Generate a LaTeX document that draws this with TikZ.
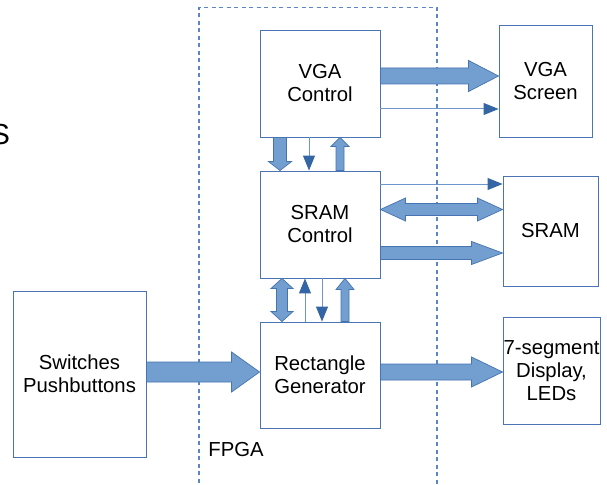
\documentclass[tikz,border=0pt]{standalone}
\usepackage{fontspec}
\setmainfont{Liberation Sans}
\usetikzlibrary{arrows.meta,calc}
\definecolor{boxline}{HTML}{4A74B4}
\definecolor{fatfill}{HTML}{729FCF}
\definecolor{fatline}{HTML}{4674B2}
\definecolor{thinline}{HTML}{6F96CC}
\definecolor{tipcol}{HTML}{3465A4}
\definecolor{dashcol}{HTML}{5A86C5}
\tikzset{
  every node/.style={font=\fontsize{20.3}{23}\selectfont},
  box/.style={draw=boxline, line width=0.9pt, align=center, inner sep=0pt},
  fat/.style={fill=fatfill, draw=fatline, line width=0.7pt, line join=miter},
  thinarrow/.style={draw=thinline, line width=1pt, -{Triangle[length=15pt,width=12pt,color=tipcol]}},
  fpgaline/.style={draw=dashcol, line width=1.2pt, dash pattern=on 4pt off 3.5pt}
}
\newcommand\fatRight[5]{\filldraw[fat] let \p1=(#1),\p2=(#2) in (\x1,\y1+#3) -- (\x2-#5,\y1+#3) -- (\x2-#5,\y1+#4) -- (\x2,\y1) -- (\x2-#5,\y1-#4) -- (\x2-#5,\y1-#3) -- (\x1,\y1-#3) -- cycle;}
\newcommand\fatLR[5]{\filldraw[fat] let \p1=(#1),\p2=(#2) in (\x1,\y1) -- (\x1+#5,\y1+#4) -- (\x1+#5,\y1+#3) -- (\x2-#5,\y1+#3) -- (\x2-#5,\y1+#4) -- (\x2,\y1) -- (\x2-#5,\y1-#4) -- (\x2-#5,\y1-#3) -- (\x1+#5,\y1-#3) -- (\x1+#5,\y1-#4) -- cycle;}
\newcommand\fatDown[5]{\filldraw[fat] let \p1=(#1),\p2=(#2) in (\x1-#3,\y1) -- (\x1-#3,\y2+#5) -- (\x1-#4,\y2+#5) -- (\x1,\y2) -- (\x1+#4,\y2+#5) -- (\x1+#3,\y2+#5) -- (\x1+#3,\y1) -- cycle;}
\newcommand\fatUp[5]{\filldraw[fat] let \p1=(#1),\p2=(#2) in (\x1-#3,\y1) -- (\x1-#3,\y2-#5) -- (\x1-#4,\y2-#5) -- (\x1,\y2) -- (\x1+#4,\y2-#5) -- (\x1+#3,\y2-#5) -- (\x1+#3,\y1) -- cycle;}
\newcommand\fatUD[5]{\filldraw[fat] let \p1=(#1),\p2=(#2) in (\x1,\y1) -- (\x1+#4,\y1-#5) -- (\x1+#3,\y1-#5) -- (\x1+#3,\y2+#5) -- (\x1+#4,\y2+#5) -- (\x1,\y2) -- (\x1-#4,\y2+#5) -- (\x1-#3,\y2+#5) -- (\x1-#3,\y1-#5) -- (\x1-#4,\y1-#5) -- cycle;}
\begin{document}
\begin{tikzpicture}[x=1pt,y=-1pt]
\useasboundingbox[fill=white] (0,0) rectangle (607,484);
% FPGA region
\draw[fpgaline] (199,490) -- (199,7.5) -- (437,7.5) -- (437,490);
\node (fpgalbl) at (236,450) {FPGA};
\node[anchor=east, font=\fontsize{29}{32}\selectfont] (stxt) at (13.5,135) {S};
% boxes
\node[box, minimum width=120pt, minimum height=107pt] (vgac) at (320,83.5) {VGA\\Control};
\node[box, minimum width=93pt, minimum height=112pt] (vgas) at (545.5,81) {VGA\\Screen};
\node[box, minimum width=120pt, minimum height=107pt] (sramc) at (320,224.5) {SRAM\\Control};
\node[box, minimum width=95pt, minimum height=110pt] (sram) at (550.5,231) {SRAM};
\node[box, minimum width=120pt, minimum height=106pt] (rect) at (320,375) {Rectangle\\Generator};
\node[box, minimum width=133pt, minimum height=166pt] (sw) at (79.5,374) {Switches\\Pushbuttons};
\node[box, minimum width=97pt, minimum height=107pt] (seg) at (551.5,370.5) {7-segment\\Display,\\LEDs};
% horizontal connectors
\fatRight{vgac.east |- 0,76}{vgas.west |- 0,76}{8pt}{15.5pt}{30pt}
\draw[thinarrow] (vgac.east |- 0,109) -- (vgas.west |- 0,109);
\draw[thinarrow] (sramc.east |- 0,184) -- (sram.west |- 0,184);
\fatLR{sramc.east |- 0,209.5}{sram.west |- 0,209.5}{6pt}{11.5pt}{25pt}
\fatRight{sramc.east |- 0,253}{sram.west |- 0,253}{6.5pt}{11.5pt}{31pt}
\fatRight{rect.east |- 0,372}{seg.west |- 0,372}{8pt}{15pt}{31pt}
\fatRight{sw.east |- 0,372}{rect.west |- 0,372}{10pt}{20pt}{28pt}
% vertical connectors VGA Control / SRAM Control
\fatDown{vgac.south -| 280,0}{sramc.north -| 280,0}{6.5pt}{11.5pt}{9pt}
\draw[thinarrow] (vgac.south -| 309,0) -- (sramc.north -| 309,0);
\fatUp{sramc.north -| 340,0}{vgac.south -| 340,0}{4pt}{9pt}{9pt}
% vertical connectors SRAM Control / Rectangle Generator
\fatUD{sramc.south -| 282,0}{rect.north -| 282,0}{5.5pt}{11pt}{10pt}
\draw[thinarrow] (rect.north -| 305,0) -- (sramc.south -| 305,0);
\draw[thinarrow] (sramc.south -| 322,0) -- (rect.north -| 322,0);
\fatUp{rect.north -| 345,0}{sramc.south -| 345,0}{4pt}{9pt}{11pt}
\end{tikzpicture}
\end{document}
